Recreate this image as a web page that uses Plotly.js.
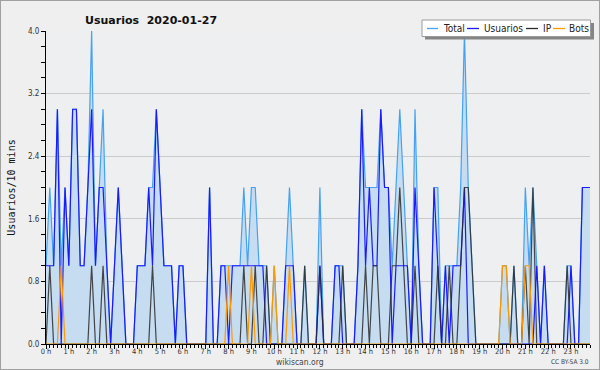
<!DOCTYPE html>
<html>
<head>
<meta charset="utf-8">
<script src="https://cdn.plot.ly/plotly-3.0.1.min.js"></script>
<style>
  html, body { margin: 0; padding: 0; background: #efefef; }
  #wrap { width: 598px; height: 368px; border: 1px solid #a0a0a0; background: #efefef; }
  #chart { width: 598px; height: 368px; }
</style>
</head>
<body>
<div id="wrap"><div id="chart"></div></div>
<script>
// ---- Data (10-minute slots, 0:00 .. 23:50) ----
const usuarios = [
  1,1,1,3,0,2,1,3,3,1,1,2,
  3,1,2,2,1,0,1,2,1,0,0,0,
  1,1,1,2,1,3,2,1,1,1,0,1,
  1,0,0,0,0,0,0,2,0,0,1,1,
  0,1,1,1,1,1,1,1,1,1,0,0,
  0,0,0,1,1,1,0,0,0,0,0,0,
  1,0,0,0,1,1,0,0,0,0,1,3,
  1,2,1,1,3,2,2,0,1,1,1,1,
  0,2,1,0,0,0,2,1,0,1,0,1,
  1,1,2,0,0,0,0,0,0,0,0,0,
  0,0,0,0,0,0,0,0,0,1,0,1,
  0,0,0,0,0,0,1,0,0,2,2,2
];
const ip = [
  0,1,0,0,0,0,0,0,0,0,0,0,
  1,0,0,1,0,0,0,0,0,0,0,0,
  0,0,0,0,1,0,0,0,0,0,0,0,
  0,0,0,0,0,0,0,0,0,0,0,0,
  0,0,0,0,1,0,0,1,0,0,1,0,
  0,0,0,0,0,0,0,0,1,0,0,0,
  1,0,0,0,0,0,1,0,0,0,0,0,
  1,0,1,1,0,0,0,1,1,2,1,0,
  0,1,0,0,0,0,0,1,0,0,1,0,
  0,1,2,2,1,0,0,0,0,0,0,0,
  0,0,0,1,0,0,1,0,2,0,0,0,
  0,0,0,0,0,1,0,0,0,0,0,0
];
const bots = [
  0,0,0,0,1,0,0,0,0,0,0,0,
  0,0,0,0,0,0,0,0,0,0,0,0,
  0,0,0,0,0,0,0,0,0,0,0,0,
  0,0,0,0,0,0,0,0,0,0,0,0,
  1,0,0,0,0,0,1,0,0,0,0,0,
  1,0,0,0,1,0,0,0,0,0,0,0,
  0,0,0,0,0,0,0,0,0,0,0,0,
  0,0,0,0,0,0,0,0,0,0,0,0,
  0,0,0,0,0,0,0,0,0,0,0,0,
  0,0,0,0,0,0,0,0,0,0,0,0,
  1,1,0,0,0,0,1,1,0,0,0,0,
  0,0,0,0,0,0,0,0,0,0,0,0
];
const total = [
  1,2,1,3,1,2,1,3,3,1,1,2,
  4,1,2,3,1,0,1,2,1,0,0,0,
  1,1,1,2,2,3,2,1,1,1,0,1,
  1,0,0,0,0,0,0,2,0,0,1,1,
  1,1,1,1,2,1,2,2,1,1,1,0,
  1,0,0,1,2,1,0,0,1,0,0,0,
  2,0,0,0,1,1,1,0,0,0,1,3,
  2,2,2,2,3,2,2,1,2,3,2,1,
  0,3,1,0,0,0,2,2,0,1,1,1,
  1,2,4,2,1,0,0,0,0,0,0,0,
  1,1,0,1,0,0,2,1,2,1,0,1,
  0,0,0,0,0,1,1,0,0,2,2,2
];
const hourVals = [0,1,2,3,4,5,6,7,8,9,10,11,12,13,14,15,16,17,18,19,20,21,22,23];
const hourLabels = ["0 h","1 h","2 h","3 h","4 h","5 h","6 h","7 h","8 h","9 h","10 h","11 h",
  "12 h","13 h","14 h","15 h","16 h","17 h","18 h","19 h","20 h","21 h","22 h","23 h"];
const seriesNames = ["Total","Usuarios","IP","Bots"];
const seriesColors = ["#45a2f2","#1a1aff","#2a2a2a","#ff9900"];
const titleText = "Usuarios&nbsp;&nbsp;2020-01-27";
const yTitle = "Usuarios/10 mins";

// time of each 10-minute slot, in hours
const times = total.map((_, i) => i / 6);

const COND = "'DejaVu Sans Condensed', 'DejaVu Sans', sans-serif";
const SANS = "'DejaVu Sans', sans-serif";
const MONO = "'DejaVu Sans Mono', 'Liberation Mono', monospace";
const LW = 1.2;

const traces = [
  {x: times, y: total, name: seriesNames[0], type: 'scatter', mode: 'lines',
   line: {color: seriesColors[0], width: LW}, fill: 'tozeroy', fillcolor: '#c6dcf0'},
  {x: times, y: usuarios, name: seriesNames[1], type: 'scatter', mode: 'lines',
   line: {color: seriesColors[1], width: LW}},
  {x: times, y: ip, name: seriesNames[2], type: 'scatter', mode: 'lines',
   line: {color: seriesColors[2], width: LW}, opacity: 0.85},
  {x: times, y: bots, name: seriesNames[3], type: 'scatter', mode: 'lines',
   line: {color: seriesColors[3], width: LW}}
];

// pixel -> paper helpers (plot area: x 46..590, y 31..344 in page px)
const PX = X => (X - 46) / 544;
const PY = Y => (344 - Y) / 313;

// custom legend box
const legY = 28.5;
const legItems = [
  {x0: 427, x1: 438, tx: 441},
  {x0: 467, x1: 479, tx: 482},
  {x0: 526, x1: 538, tx: 541},
  {x0: 553, x1: 565, tx: 567}
];
const shapes = [
  {type: 'rect', xref: 'paper', yref: 'paper', x0: PX(425), x1: PX(594), y0: PY(23), y1: PY(39.5),
   fillcolor: '#858585', line: {width: 0}, layer: 'above'},
  {type: 'rect', xref: 'paper', yref: 'paper', x0: PX(422), x1: PX(590.5), y0: PY(20), y1: PY(36.5),
   fillcolor: '#ffffff', line: {color: '#9a9a9a', width: 1}, layer: 'above'}
];
const annotations = [];
legItems.forEach((it, k) => {
  shapes.push({type: 'line', xref: 'paper', yref: 'paper', x0: PX(it.x0), x1: PX(it.x1),
    y0: PY(legY), y1: PY(legY), line: {color: seriesColors[k], width: 1.3}, layer: 'above'});
  annotations.push({xref: 'paper', yref: 'paper', x: PX(it.tx), y: PY(legY), xanchor: 'left', yanchor: 'middle',
    text: seriesNames[k], showarrow: false, font: {family: COND, size: 10, color: '#222'}});
});
annotations.push({xref: 'paper', yref: 'paper', x: PX(300), y: PY(362), xanchor: 'center', yanchor: 'middle',
  text: 'wikiscan.org', showarrow: false, font: {family: COND, size: 8.5, color: '#444'}});
annotations.push({xref: 'paper', yref: 'paper', x: PX(591), y: PY(362), xanchor: 'right', yanchor: 'middle',
  text: 'CC BY-SA 3.0', showarrow: false, font: {family: COND, size: 6.5, color: '#444'}});

const layout = {
  width: 598, height: 368,
  margin: {l: 45, r: 9, t: 30, b: 25, pad: 0},
  paper_bgcolor: '#efefef',
  plot_bgcolor: '#edeff1',
  showlegend: false,
  title: {text: titleText, x: PX(85), xanchor: 'left', xref: 'paper', y: 1 - 19 / 368, yanchor: 'middle',
          font: {family: SANS, size: 11, color: '#111', weight: 'bold'}},
  xaxis: {
    range: [0, times[times.length - 1]],
    tickmode: 'array', tickvals: hourVals, ticktext: hourLabels,
    ticks: 'outside', ticklen: 4, tickcolor: '#000', tickwidth: 1,
    ticklabelstandoff: -4,
    showline: true, linecolor: '#000', linewidth: 1,
    showgrid: false, zeroline: false,
    tickfont: {family: COND, size: 7.5, color: '#333'},
    minor: {tickmode: 'linear', tick0: 0, dtick: 1/6, ticks: 'outside', ticklen: 3, tickcolor: '#000', showgrid: false},
    fixedrange: true
  },
  yaxis: {
    range: [0, 4], tick0: 0, dtick: 0.8, tickformat: '.1f',
    ticks: 'outside', ticklen: 4, tickcolor: '#000', tickwidth: 1,
    showline: true, linecolor: '#000', linewidth: 1,
    showgrid: true, gridcolor: '#cbcbcb', gridwidth: 1, zeroline: false,
    tickfont: {family: COND, size: 8, color: '#333'},
    minor: {tick0: 0, dtick: 0.2, ticks: 'outside', ticklen: 4, tickcolor: '#000', showgrid: false},
    title: {text: yTitle, standoff: 10, font: {family: MONO, size: 10, color: '#111'}},
    fixedrange: true
  },
  shapes: shapes,
  annotations: annotations
};

Plotly.newPlot('chart', traces, layout, {displayModeBar: false, staticPlot: true});
</script>
</body>
</html>
